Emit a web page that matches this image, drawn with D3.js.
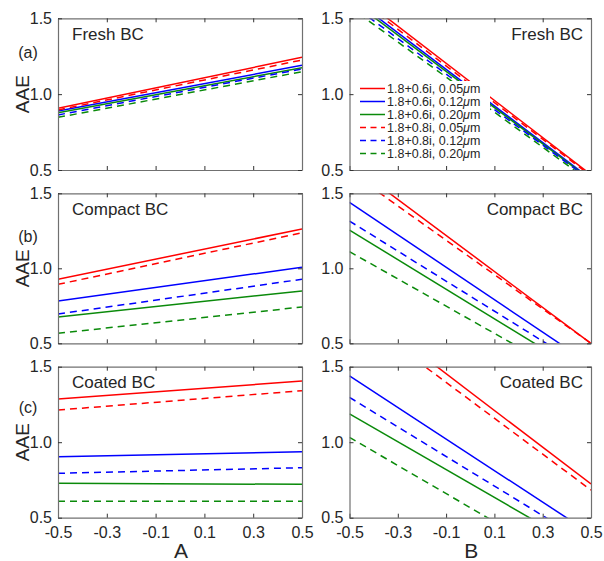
<!DOCTYPE html>
<html>
<head>
<meta charset="utf-8">
<script src="https://cdn.jsdelivr.net/npm/d3@7"></script>
<style>
  html, body { margin: 0; padding: 0; background: #fff; }
  svg text { font-family: "Liberation Sans", Arial, Helvetica, sans-serif; fill: #262626; }
</style>
</head>
<body>
<svg id="chart" width="604" height="561"></svg>
<script>
// ---------------- DATA ----------------
const seriesNames = [
  "1.8+0.6i, 0.05", "1.8+0.6i, 0.12", "1.8+0.6i, 0.20",
  "1.8+0.8i, 0.05", "1.8+0.8i, 0.12", "1.8+0.8i, 0.20"
];
const seriesColors = ["#ff0000", "#0000ff", "#0a8a0a", "#ff0000", "#0000ff", "#0a8a0a"];
const seriesDashed = [false, false, false, true, true, true];

const xPoints = [-0.5, 0.5];
const xTicks = [-0.5, -0.3, -0.1, 0.1, 0.3, 0.5];
const yTicks = [0.5, 1.0, 1.5];

// Values at x = -0.5 and x = 0.5 for each series (order as seriesNames)
const freshA   = [[0.907, 1.243], [0.889, 1.190], [0.878, 1.174], [0.896, 1.225], [0.863, 1.166], [0.847, 1.148]];
const compactA = [[0.927, 1.262], [0.782, 1.007], [0.675, 0.849], [0.893, 1.237], [0.695, 0.927], [0.567, 0.742]];
const coatedA  = [[1.286, 1.405], [0.904, 0.937], [0.728, 0.721], [1.213, 1.341], [0.794, 0.831], [0.609, 0.609]];
const freshB   = [[1.693, 0.469], [1.646, 0.440], [1.628, 0.434], [1.670, 0.461], [1.601, 0.430], [1.575, 0.419]];
const compactB = [[1.699, 0.499], [1.440, 0.358], [1.255, 0.269], [1.645, 0.500], [1.315, 0.314], [1.111, 0.203]];
const coatedB  = [[1.941, 0.723], [1.439, 0.394], [1.187, 0.265], [1.872, 0.683], [1.297, 0.318], [1.032, 0.101]];

const rowTitles = ["Fresh BC", "Compact BC", "Coated BC"];
const rowLetters = ["(a)", "(b)", "(c)"];
const xLabels = ["A", "B"];

// ---------------- LAYOUT ----------------
const svg = d3.select("#chart");
const cols = [{x0: 58, x1: 302}, {x0: 349.5, x1: 591}];
const rows = [{y0: 18.3, y1: 170}, {y0: 193.3, y1: 343.3}, {y0: 366.7, y1: 517.7}];
const letterOffsets = [-36, -26, -29];
const panelData = [[freshA, freshB], [compactA, compactB], [coatedA, coatedB]];
const frameColor = "#707070";
const tickLen = 4;
const fmt = d => d.toFixed(1);

const defs = svg.append("defs");

rows.forEach((r, ri) => {
  cols.forEach((c, ci) => {
    const x = d3.scaleLinear().domain([-0.5, 0.5]).range([c.x0, c.x1]);
    const y = d3.scaleLinear().domain([0.5, 1.5]).range([r.y1, r.y0]);
    const clipId = `clip-${ri}-${ci}`;
    defs.append("clipPath").attr("id", clipId)
      .append("rect").attr("x", c.x0).attr("y", r.y0)
      .attr("width", c.x1 - c.x0).attr("height", r.y1 - r.y0);

    const g = svg.append("g");

    // series lines
    const line = d3.line().x((d, i) => x(xPoints[i])).y(d => y(d));
    const lg = g.append("g").attr("clip-path", `url(#${clipId})`);
    panelData[ri][ci].forEach((vals, si) => {
      lg.append("path")
        .attr("d", line(vals))
        .attr("fill", "none")
        .attr("stroke", seriesColors[si])
        .attr("stroke-width", 1.5)
        .attr("stroke-dasharray", seriesDashed[si] ? "7,5" : null);
    });

    // axes (MATLAB style: box with inward ticks on all sides)
    const axB = d3.axisBottom(x).tickValues(xTicks).tickSizeInner(-tickLen).tickSizeOuter(0)
      .tickFormat(ri === 2 ? fmt : () => "");
    const axT = d3.axisTop(x).tickValues(xTicks).tickSizeInner(-tickLen).tickSizeOuter(0).tickFormat(() => "");
    const axL = d3.axisLeft(y).tickValues(yTicks).tickSizeInner(-tickLen).tickSizeOuter(0).tickFormat(fmt);
    const axR = d3.axisRight(y).tickValues(yTicks).tickSizeInner(-tickLen).tickSizeOuter(0).tickFormat(() => "");

    const gb = g.append("g").attr("transform", `translate(0,${r.y1})`).call(axB);
    const gt = g.append("g").attr("transform", `translate(0,${r.y0})`).call(axT);
    const gl = g.append("g").attr("transform", `translate(${c.x0},0)`).call(axL);
    const gr = g.append("g").attr("transform", `translate(${c.x1},0)`).call(axR);

    [gb, gt, gl, gr].forEach(a => {
      a.attr("font-size", 16).attr("font-family", "'Liberation Sans', Arial, sans-serif");
      a.select(".domain").attr("stroke", frameColor).attr("stroke-width", 1.2);
      a.selectAll(".tick line").attr("stroke", "#333").attr("stroke-width", 1);
      a.selectAll(".tick text").attr("font-size", 16).attr("fill", "#262626");
    });
    gl.selectAll(".tick text").attr("x", -6);
    gb.selectAll(".tick text").attr("y", 9);

    // panel title
    if (ci === 0) {
      g.append("text").attr("x", c.x0 + 14).attr("y", r.y0 + 21.5)
        .attr("font-size", 17).text(rowTitles[ri]);
    } else {
      g.append("text").attr("x", c.x1 - 8).attr("y", r.y0 + 21.5)
        .attr("text-anchor", "end").attr("font-size", 17).text(rowTitles[ri]);
    }

    if (ci === 0) {
      // y-axis label
      const cy = (r.y0 + r.y1) / 2;
      g.append("text")
        .attr("transform", `translate(${29},${cy}) rotate(-90)`)
        .attr("text-anchor", "middle").attr("font-size", 19).text("AAE");
      // row letter
      g.append("text").attr("x", 28).attr("y", cy + letterOffsets[ri])
        .attr("text-anchor", "middle").attr("font-size", 16).text(rowLetters[ri]);
    }

    if (ri === 2) {
      g.append("text").attr("x", (c.x0 + c.x1) / 2 + 1).attr("y", 558)
        .attr("text-anchor", "middle").attr("font-size", 21).text(xLabels[ci]);
    }

    // legend in the top-right panel
    if (ri === 0 && ci === 1) {
      const leg = g.append("g");
      leg.append("rect").attr("x", 356).attr("y", 81).attr("width", 134).attr("height", 80)
        .attr("fill", "#fff");
      seriesNames.forEach((name, si) => {
        const ly = 88.5 + si * 13;
        leg.append("line").attr("x1", 360).attr("x2", 385).attr("y1", ly).attr("y2", ly)
          .attr("stroke", seriesColors[si]).attr("stroke-width", 1.5)
          .attr("stroke-dasharray", seriesDashed[si] ? "6,4.5" : null);
        const t = leg.append("text").attr("x", 387).attr("y", ly + 4.5).attr("font-size", 12.5);
        t.append("tspan").text(name);
        t.append("tspan").attr("font-style", "italic").text("\u03bc");
        t.append("tspan").text("m");
      });
    }
  });
});
</script>
</body>
</html>
